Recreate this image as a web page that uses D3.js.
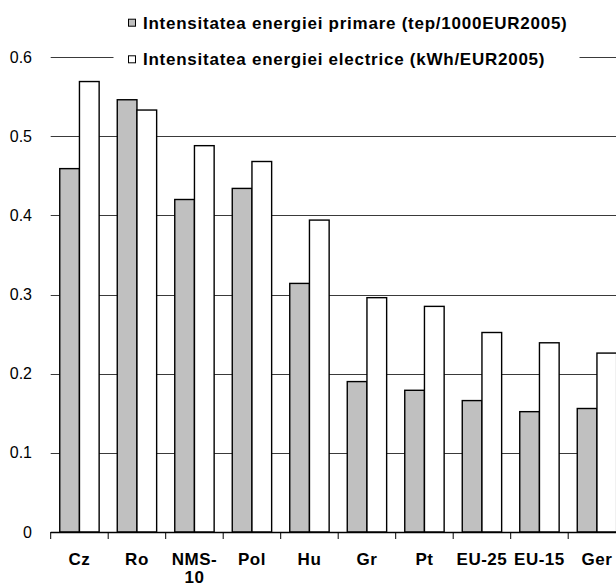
<!DOCTYPE html>
<html><head><meta charset="utf-8">
<script src="https://cdn.jsdelivr.net/npm/d3@7"></script>
<style>body{margin:0;background:#fff;} svg{display:block;font-family:"Liberation Sans",Arial,sans-serif;}</style>
</head><body>
<svg id="c" width="616" height="587"></svg>
<script>
const categories = ["Cz","Ro","NMS-10","Pol","Hu","Gr","Pt","EU-25","EU-15","Ger"];
const primaryIntensity = [0.459,0.546,0.420,0.434,0.314,0.190,0.179,0.166,0.152,0.156];
const electricIntensity = [0.569,0.533,0.488,0.468,0.394,0.296,0.285,0.252,0.239,0.226];
const yTicks = [0,0.1,0.2,0.3,0.4,0.5,0.6];
const seriesNames = ["Intensitatea energiei primare (tep/1000EUR2005)","Intensitatea energiei electrice (kWh/EUR2005)"];
const seriesFills = ["#c0c0c0","#ffffff"];

const svg = d3.select("#c");
const left = 50.7, step = 57.5;
const x = d3.scaleBand().domain(categories).range([left, left + step*categories.length]).paddingInner(0.315).paddingOuter(0.1575);
const x1 = d3.scaleBand().domain([0,1]).range([0, x.bandwidth()]);
const y = d3.scaleLinear().domain([0,0.6]).range([532,57]);

// gridlines
svg.append("g").selectAll("line").data(yTicks.filter(d=>d>0)).join("line")
  .attr("x1", left).attr("x2", 616).attr("y1", d=>Math.round(y(d))+0.5).attr("y2", d=>Math.round(y(d))+0.5)
  .attr("stroke", "#3a3a3a").attr("stroke-width", 1);

// y labels
svg.append("g").selectAll("text").data(yTicks).join("text")
  .attr("x", 32).attr("y", d=>y(d)).attr("dy","0.35em").attr("text-anchor","end")
  .attr("font-size", 16).attr("fill","#000").text(d=>d===0?"0":d.toFixed(1));

// bars
const series = [primaryIntensity, electricIntensity];
series.forEach((vals, si) => {
  svg.append("g").selectAll("rect").data(categories).join("rect")
    .attr("x", (c)=>x(c)+x1(si)).attr("width", x1.bandwidth())
    .attr("y", (c,i)=>y(vals[i])).attr("height", (c,i)=>y(0)-y(vals[i]))
    .attr("fill", seriesFills[si]).attr("stroke","#000").attr("stroke-width",1.4);
});

// x axis
const ax = svg.append("g").attr("transform","translate(0,532)");
ax.append("line").attr("x1",left).attr("x2",616).attr("y1",0.5).attr("y2",0.5).attr("stroke","#000").attr("stroke-width",1.4);
ax.selectAll("line.tk").data(d3.range(categories.length+1)).join("line").attr("class","tk")
  .attr("x1", i=>left+i*step).attr("x2", i=>left+i*step).attr("y1",0).attr("y2",7).attr("stroke","#000");
ax.selectAll("text.cl").data(categories).join("text").attr("class","cl")
  .attr("x", c=>x(c)+x.bandwidth()/2).attr("y", 33.3).attr("text-anchor","middle")
  .attr("font-size",17).attr("font-weight","bold").attr("letter-spacing","0.5")
  .each(function(c){
    const t = d3.select(this);
    const parts = c==="NMS-10" ? ["NMS-","10"] : [c];
    parts.forEach((p,k)=>t.append("tspan").attr("x", x(c)+x.bandwidth()/2).attr("dy", k===0?0:18).text(p));
  });

// legend
const lg = svg.append("g");
lg.append("rect").attr("x",113.5).attr("y",4).attr("width",466).attr("height",72).attr("fill","#fff");
const ly = [22.7, 59.3];
seriesNames.forEach((n,i)=>{
  lg.append("rect").attr("x",128.5).attr("y",ly[i]-3.5).attr("width",7).attr("height",7)
    .attr("fill",seriesFills[i]).attr("stroke","#000").attr("stroke-width",1);
  lg.append("text").attr("x",143).attr("y",ly[i]).attr("dy","0.36em").attr("font-size",17)
    .attr("font-weight","bold").attr("letter-spacing","0.75").text(n);
});
</script>
</body></html>
